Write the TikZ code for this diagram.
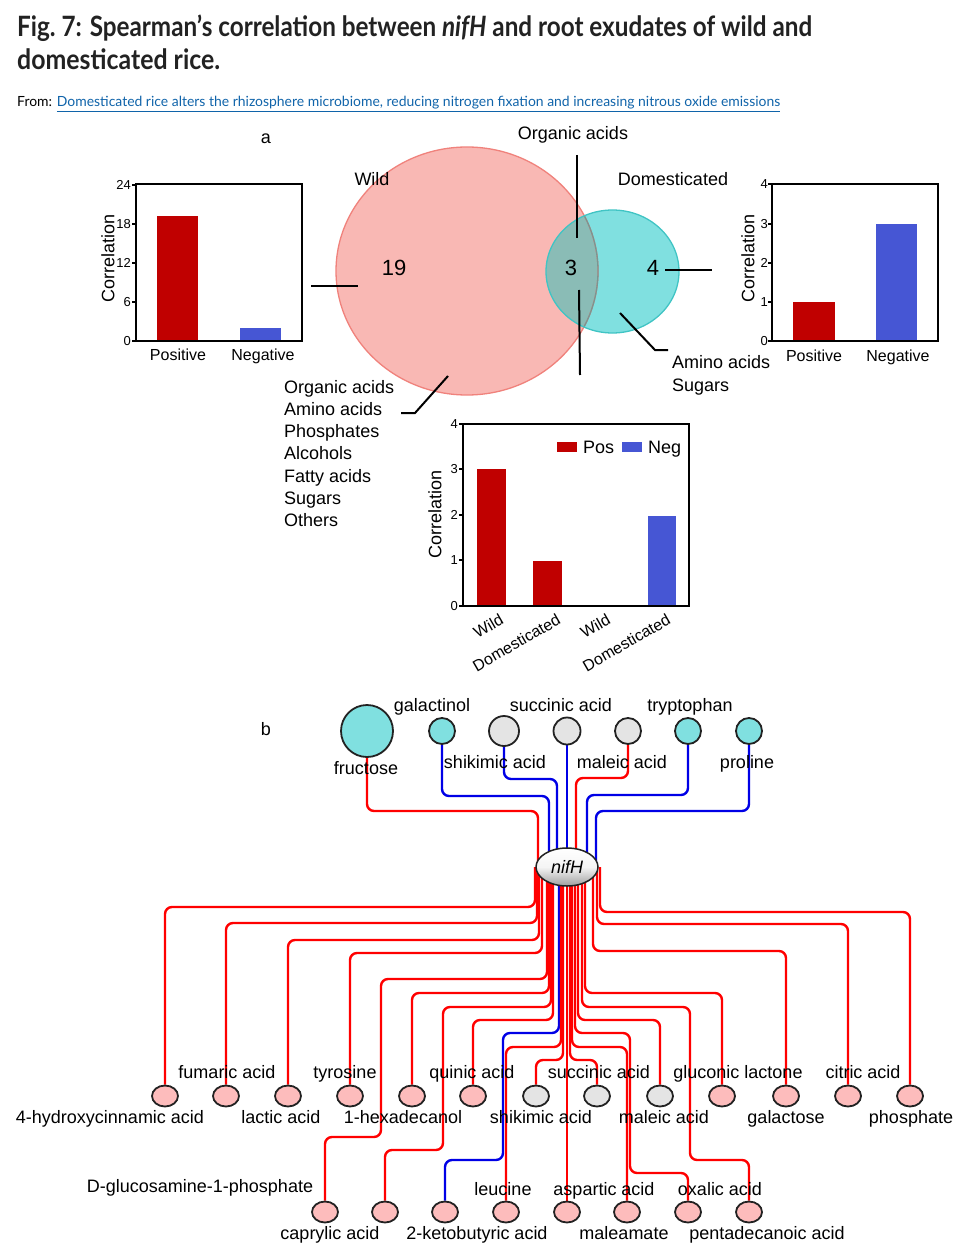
\documentclass[tikz,border=0pt]{standalone}
\usepackage{graphicx}
\usepackage{fontspec}
\setmainfont{Liberation Sans}
\newfontfamily\titlefont{Lato}
\usetikzlibrary{backgrounds,shapes.geometric}
\definecolor{barred}{RGB}{192,0,0}
\definecolor{barblue}{RGB}{70,86,212}
\definecolor{vpink}{RGB}{249,184,180}
\definecolor{vpinkdraw}{RGB}{240,130,124}
\definecolor{vpinkinner}{RGB}{120,150,146}
\definecolor{vteal}{RGB}{128,224,224}
\definecolor{vtealdraw}{RGB}{64,196,196}
\definecolor{voverlap}{RGB}{138,188,182}
\definecolor{npink}{RGB}{253,188,188}
\definecolor{ngray}{RGB}{228,228,228}
\definecolor{nteal}{RGB}{128,224,224}
\definecolor{nodeborder}{RGB}{34,34,34}
\definecolor{edgered}{RGB}{255,0,0}
\definecolor{edgeblue}{RGB}{0,0,230}
\definecolor{linkblue}{RGB}{16,100,170}
\definecolor{titleblack}{RGB}{34,34,34}
\tikzset{
  lbl/.style={font=\fontsize{18}{20}\selectfont, inner sep=0pt, text height=12.9pt, text depth=0pt},
  biglbl/.style={font=\fontsize{22}{24}\selectfont, inner sep=0pt, text height=15.8pt, text depth=0pt},
  axlbl/.style={font=\fontsize{16}{18}\selectfont, inner sep=0pt, text height=11.5pt, text depth=0pt},
  ticklbl/.style={font=\fontsize{13}{15}\selectfont, inner sep=0pt, text height=9.3pt, text depth=0pt, anchor=east},
  chartframe/.style={draw=black, line width=2.5pt},
  tickmark/.style={draw=black, line width=1.5pt},
  callout/.style={draw=black, line width=2pt},
  posedge/.style={draw=edgered, line width=2.4pt, rounded corners=7pt},
  negedge/.style={draw=edgeblue, line width=2.4pt, rounded corners=7pt},
  topnode/.style={circle, draw=nodeborder, line width=1.8pt, inner sep=0pt, fill=nteal},
  rownode/.style={ellipse, draw=nodeborder, line width=1.8pt, inner sep=0pt, minimum width=26pt, minimum height=21pt, fill=npink},
  graynode/.style={rownode, fill=ngray},
}
\begin{document}
\begin{tikzpicture}[x=1pt,y=-1pt]
\useasboundingbox (0,0) rectangle (969,1246);
\begin{scope}[on background layer]
  \fill[white] (0,0) rectangle (969,1246);
\end{scope}

% ---------- title ----------
\node[anchor=base west, inner sep=0pt, text=titleblack] (title1) at (17,37)
  {\resizebox{795pt}{\height}{\titlefont\fontsize{28}{30}\selectfont\bfseries Fig.~7: Spearman’s correlation between \textit{nifH} and root exudates of wild and}};
\node[anchor=base west, inner sep=0pt, text=titleblack] (title2) at (17,70)
  {\resizebox{203pt}{\height}{\titlefont\fontsize{28}{30}\selectfont\bfseries domesticated rice.}};
\node[anchor=base west, inner sep=0pt] (source) at (17,107)
  {\resizebox{763pt}{\height}{\titlefont\fontsize{14}{16}\selectfont From: \textcolor{linkblue}{\underline{Domesticated rice alters the rhizosphere microbiome, reducing nitrogen fixation and increasing nitrous oxide emissions}}}};

% ---------- panel a ----------
\node[lbl] (pa) at (266,137) {a};

% left chart
\fill[barred] (157,216) rectangle (198,341);
\fill[barblue] (240,328) rectangle (281,341);
\draw[chartframe] (136,184) rectangle (302,341);
\foreach \yy/\tt in {185/24,224/18,263/12,302/6,341/0}{
  \draw[tickmark] (132,\yy) -- (136,\yy);
  \node[ticklbl] at (131,\yy) {\tt};
}
\node[lbl, rotate=90] (lcorr) at (108,258) {Correlation};
\node[axlbl] (lpos) at (178,355) {Positive};
\node[axlbl] (lneg) at (263,355) {Negative};

% right chart
\fill[barred] (793,302) rectangle (835,341);
\fill[barblue] (876,224) rectangle (917,341);
\draw[chartframe] (772,184) rectangle (938,341);
\foreach \yy/\tt in {184/4,224/3,263/2,302/1,341/0}{
  \draw[tickmark] (768,\yy) -- (772,\yy);
  \node[ticklbl] at (768,\yy) {\tt};
}
\node[lbl, rotate=90] (rcorr) at (748,258) {Correlation};
\node[axlbl] (rpos) at (814,356) {Positive};
\node[axlbl] (rneg) at (898,356) {Negative};

% Venn
\fill[vpink] (467,271) ellipse [x radius=131pt, y radius=124pt];
\fill[vteal] (612.5,271.5) ellipse [x radius=66.5pt, y radius=61.5pt];
\begin{scope}
  \clip (467,271) ellipse [x radius=131pt, y radius=124pt];
  \fill[voverlap] (612.5,271.5) ellipse [x radius=66.5pt, y radius=61.5pt];
\end{scope}
\draw[vpinkdraw, line width=1.3pt] (467,271) ellipse [x radius=131pt, y radius=124pt];
\begin{scope}
  \clip (612.5,271.5) ellipse [x radius=66.5pt, y radius=61.5pt];
  \draw[vpinkinner, line width=1.3pt] (467,271) ellipse [x radius=131pt, y radius=124pt];
\end{scope}
\draw[vtealdraw, line width=1.3pt] (612.5,271.5) ellipse [x radius=66.5pt, y radius=61.5pt];

\node[biglbl] (n19) at (394,268) {19};
\node[biglbl] (n3) at (571,268) {3};
\node[biglbl] (n4) at (653,268) {4};
\node[lbl] (vorg) at (573,133) {Organic acids};
\node[lbl] (vwild) at (372,179) {Wild};
\node[lbl] (vdom) at (673,179) {Domesticated};

\draw[callout] (311,286) -- (358,286);
\draw[callout] (577,155) -- (577,238);
\draw[callout] (579,290) -- (580,375);
\draw[callout] (665,270) -- (712,270);
\draw[callout] (620,313) -- (655,350) -- (668,350);
\draw[callout] (448,376) -- (415,413) -- (401,413);

\node[lbl, anchor=west] (am1) at (672,362) {Amino acids};
\node[lbl, anchor=west] (am2) at (672,385) {Sugars};
\node[lbl, anchor=west] (w1) at (284,387) {Organic acids};
\node[lbl, anchor=west] (w2) at (284,409) {Amino acids};
\node[lbl, anchor=west] (w3) at (284,431) {Phosphates};
\node[lbl, anchor=west] (w4) at (284,453) {Alcohols};
\node[lbl, anchor=west] (w5) at (284,476) {Fatty acids};
\node[lbl, anchor=west] (w6) at (284,498) {Sugars};
\node[lbl, anchor=west] (w7) at (284,520) {Others};

% bottom chart
\fill[barred] (477,469) rectangle (506,606);
\fill[barred] (533,561) rectangle (562,606);
\fill[barblue] (648,516) rectangle (676,606);
\draw[chartframe] (463,424) rectangle (689,606);
\foreach \yy/\tt in {424/4,469/3,515/2,560/1,606/0}{
  \draw[tickmark] (459,\yy) -- (463,\yy);
  \node[ticklbl] at (458,\yy) {\tt};
}
\node[lbl, rotate=90] (bcorr) at (435,514) {Correlation};
\fill[barred] (557,442) rectangle (577,452);
\node[lbl, anchor=west] (lgpos) at (583,447) {Pos};
\fill[barblue] (622,442) rectangle (642,452);
\node[lbl, anchor=west] (lgneg) at (648,447) {Neg};
\node[axlbl, rotate=30, anchor=north east] (x1) at (499,613) {Wild};
\node[axlbl, rotate=30, anchor=north east] (x2) at (556,613) {Domesticated};
\node[axlbl, rotate=30, anchor=north east] (x3) at (606,613) {Wild};
\node[axlbl, rotate=30, anchor=north east] (x4) at (666,613) {Domesticated};

% ---------- panel b ----------
\node[lbl] (pb) at (266,729) {b};

\node[topnode, minimum size=52pt] (tFru) at (367,731) {};
\node[topnode, minimum size=26pt] (tGal) at (442,731) {};
\node[topnode, fill=ngray, minimum size=30pt] (tShi) at (504,731) {};
\node[topnode, fill=ngray, minimum size=27pt] (tSuc) at (567,731) {};
\node[topnode, fill=ngray, minimum size=26pt] (tMal) at (628,731) {};
\node[topnode, minimum size=26pt] (tTry) at (688,731) {};
\node[topnode, minimum size=26pt] (tPro) at (749,731) {};

\node[ellipse, draw=nodeborder, line width=1.5pt, minimum width=62pt, minimum height=38pt, inner sep=0pt,
  top color=white, bottom color=gray!75, middle color=white!92!gray,
  font=\fontsize{18}{20}\selectfont\itshape, text height=12.9pt, text depth=0pt] (nifH) at (567,867) {nifH};

% row 1
\node[rownode] (a1) at (165,1096) {};
\node[rownode] (a2) at (226,1096) {};
\node[rownode] (a3) at (288,1096) {};
\node[rownode] (a4) at (350,1096) {};
\node[rownode] (a5) at (412,1096) {};
\node[rownode] (a6) at (473,1096) {};
\node[graynode] (a7) at (536,1096) {};
\node[graynode] (a8) at (597,1096) {};
\node[graynode] (a9) at (660,1096) {};
\node[rownode] (a10) at (722,1096) {};
\node[rownode] (a11) at (786,1096) {};
\node[rownode] (a12) at (848,1096) {};
\node[rownode] (a13) at (910,1096) {};
% row 2
\node[rownode] (b1) at (325,1212) {};
\node[rownode] (b2) at (385,1212) {};
\node[rownode] (b3) at (445,1212) {};
\node[rownode] (b4) at (506,1212) {};
\node[rownode] (b5) at (567,1212) {};
\node[rownode] (b6) at (627,1212) {};
\node[rownode] (b7) at (688,1212) {};
\node[rownode] (b8) at (749,1212) {};

% edges
\begin{scope}[on background layer]
  \draw[posedge] (tFru) |- (538,811) -- ([xshift=-29pt]nifH.center);
  \draw[negedge] (tGal) |- (549,796) -- ([xshift=-18pt]nifH.center);
  \draw[negedge] (tShi) |- (557,779) -- ([xshift=-10pt]nifH.center);
  \draw[negedge] (tSuc) -- (nifH.center);
  \draw[posedge] (tMal) |- (576,778) -- ([xshift=9pt]nifH.center);
  \draw[negedge] (tTry) |- (587,795) -- ([xshift=20pt]nifH.center);
  \draw[negedge] (tPro) |- (596,811) -- ([xshift=29pt]nifH.center);

  \draw[posedge] ([xshift=-32pt]nifH.center) |- (165,907) -- (a1);
  \draw[posedge] ([xshift=-30pt]nifH.center) |- (226,923) -- (a2);
  \draw[posedge] ([xshift=-28pt]nifH.center) |- (288,940) -- (a3);
  \draw[posedge] ([xshift=-25pt]nifH.center) |- (350,953) -- (a4);
  \draw[posedge] ([xshift=-20pt]nifH.center) |- (381,979) |- (325,1137) -- (b1);
  \draw[posedge] ([xshift=-18pt]nifH.center) |- (412,993) -- (a5);
  \draw[posedge] ([xshift=-16pt]nifH.center) |- (443,1007) |- (385,1150) -- (b2);
  \draw[posedge] ([xshift=-14pt]nifH.center) |- (473,1020) -- (a6);
  \draw[negedge] ([xshift=-8pt]nifH.center) |- (503,1033) |- (445,1160) -- (b3);
  \draw[posedge] ([xshift=-6pt]nifH.center) |- (506,1047) -- (b4);
  \draw[posedge] ([xshift=-4pt]nifH.center) |- (536,1060) -- (a7);
  \draw[posedge] (nifH.center) -- (b5);
  \draw[posedge] ([xshift=3pt]nifH.center) |- (597,1060) -- (a8);
  \draw[posedge] ([xshift=5pt]nifH.center) |- (627,1047) -- (b6);
  \draw[posedge] ([xshift=8pt]nifH.center) |- (630,1033) |- (688,1173) -- (b7);
  \draw[posedge] ([xshift=11pt]nifH.center) |- (660,1020) -- (a9);
  \draw[posedge] ([xshift=15pt]nifH.center) |- (690,1007) |- (749,1160) -- (b8);
  \draw[posedge] ([xshift=18pt]nifH.center) |- (722,993) -- (a10);
  \draw[posedge] ([xshift=26pt]nifH.center) |- (786,951) -- (a11);
  \draw[posedge] ([xshift=30pt]nifH.center) |- (848,924) -- (a12);
  \draw[posedge] ([xshift=33pt]nifH.center) |- (910,912) -- (a13);
\end{scope}

% labels top
\node[lbl] (lGal) at (432,705) {galactinol};
\node[lbl] (lSuc) at (561,705) {succinic acid};
\node[lbl] (lTry) at (690,705) {tryptophan};
\node[lbl] (lFru) at (366,768) {fructose};
\node[lbl] (lShi) at (495,762) {shikimic acid};
\node[lbl] (lMal) at (622,762) {maleic acid};
\node[lbl] (lPro) at (747,762) {proline};

% labels row 1
\node[lbl] (la2) at (227,1072) {fumaric acid};
\node[lbl] (la4) at (345,1072) {tyrosine};
\node[lbl] (la6) at (472,1072) {quinic acid};
\node[lbl] (la8) at (599,1072) {succinic acid};
\node[lbl] (la10) at (738,1072) {gluconic lactone};
\node[lbl] (la12) at (863,1072) {citric acid};
\node[lbl] (la1) at (110,1117) {4-hydroxycinnamic acid};
\node[lbl] (la3) at (281,1117) {lactic acid};
\node[lbl] (la5) at (403,1117) {1-hexadecanol};
\node[lbl] (la7) at (541,1117) {shikimic acid};
\node[lbl] (la9) at (664,1117) {maleic acid};
\node[lbl] (la11) at (786,1117) {galactose};
\node[lbl] (la13) at (911,1117) {phosphate};
% labels row 2
\node[lbl] (lb2) at (200,1186) {D-glucosamine-1-phosphate};
\node[lbl] (lb4) at (503,1189) {leucine};
\node[lbl] (lb5) at (604,1189) {aspartic acid};
\node[lbl] (lb7) at (720,1189) {oxalic acid};
\node[lbl] (lb1) at (330,1233) {caprylic acid};
\node[lbl] (lb3) at (477,1233) {2-ketobutyric acid};
\node[lbl] (lb6) at (624,1233) {maleamate};
\node[lbl] (lb8) at (767,1233) {pentadecanoic acid};
\end{tikzpicture}
\end{document}
